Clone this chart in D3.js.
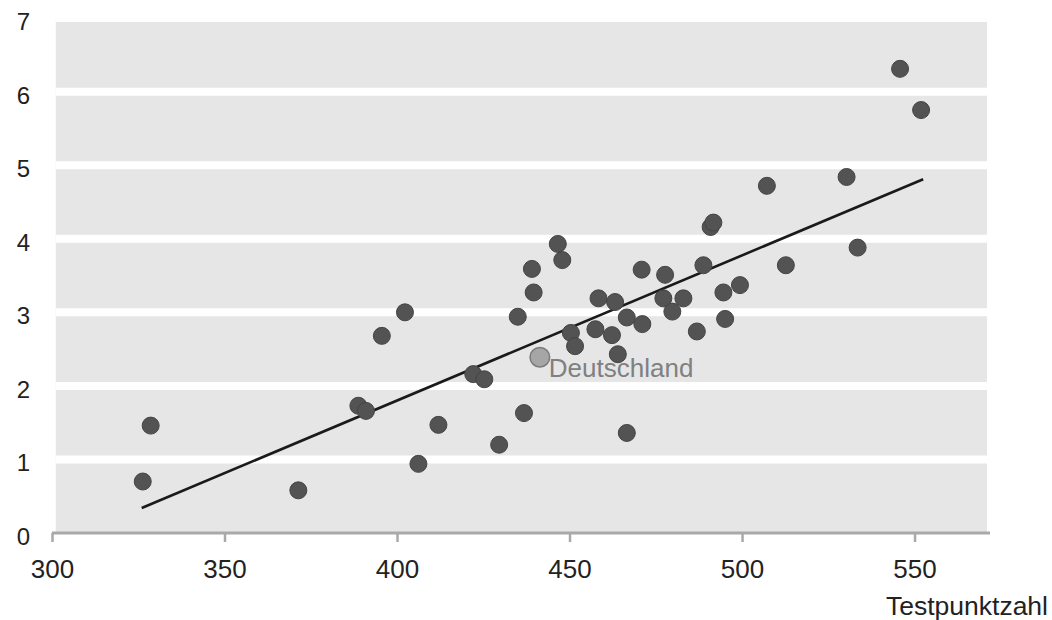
<!DOCTYPE html>
<html>
<head>
<meta charset="utf-8">
<script src="https://cdn.jsdelivr.net/npm/d3@7"></script>
<style>
  body { margin: 0; background: #fff; }
  text { font-family: "Liberation Sans", Arial, sans-serif; }
</style>
</head>
<body>
<div id="chart"></div>
<script>
// Testpunktzahl (x) against the value on the y axis, one dot per country
var scores = [326.3, 328.6, 371.4, 388.8, 391.0, 395.6, 402.3, 406.2, 412.0, 422.1,
              425.3, 429.6, 435.0, 436.8, 439.1, 439.6, 446.6, 447.9, 450.4, 451.6,
              457.5, 458.4, 463.2, 462.3, 464.0, 466.6, 466.6, 470.9, 471.1, 477.2,
              477.7, 479.8, 483.0, 486.9, 488.8, 490.9, 491.7, 494.6, 495.1, 499.4,
              507.2, 512.7, 530.3, 533.5, 545.8, 551.9];
var values = [0.70, 1.46, 0.58, 1.73, 1.66, 2.68, 3.00, 0.94, 1.47, 2.16,
              2.09, 1.20, 2.94, 1.63, 3.59, 3.27, 3.93, 3.71, 2.72, 2.54,
              2.77, 3.19, 3.14, 2.69, 2.43, 2.93, 1.36, 3.58, 2.84, 3.19,
              3.51, 3.01, 3.19, 2.74, 3.64, 4.16, 4.22, 3.27, 2.91, 3.37,
              4.72, 3.64, 4.84, 3.88, 6.31, 5.75];

// highlighted country
var highlightName = "Deutschland";
var highlightScore = 441.4;
var highlightValue = 2.39;

// trend line end points
var trendX = [326.0, 552.5];
var trendY = [0.34, 4.81];

var xTicks = [300, 350, 400, 450, 500, 550];
var yTicks = [0, 1, 2, 3, 4, 5, 6, 7];
var xTitle = "Testpunktzahl";

var width = 1052, height = 620;

var svg = d3.select("#chart").append("svg")
    .attr("width", width)
    .attr("height", height);

var x = d3.scaleLinear().domain([300, 571]).range([52, 987]);
var y = d3.scaleLinear().domain([0, 7]).range([533, 18.1]);

// plot background
svg.append("rect")
    .attr("x", x(301.1))
    .attr("y", y(7))
    .attr("width", x(571) - x(301.1))
    .attr("height", y(0) - y(7))
    .attr("fill", "#e6e6e6");

// white horizontal grid bands
svg.selectAll(".grid")
    .data(yTicks.filter(function(d) { return d > 0; }))
    .enter().append("line")
    .attr("class", "grid")
    .attr("x1", x(301.1))
    .attr("x2", x(571))
    .attr("y1", function(d) { return y(d); })
    .attr("y2", function(d) { return y(d); })
    .attr("stroke", "#fff")
    .attr("stroke-width", 8);

// x axis
var xAxis = svg.append("g")
    .attr("transform", "translate(0," + y(0) + ")")
    .call(d3.axisBottom(x).tickValues(xTicks).tickSize(9).tickPadding(18).tickSizeOuter(0));
xAxis.select(".domain")
    .attr("d", "M" + x(300) + ",0H" + (x(571) + 3))
    .attr("stroke", "#a9a9a9")
    .attr("stroke-width", 3);
xAxis.selectAll(".tick line")
    .attr("stroke", "#a9a9a9")
    .attr("stroke-width", 2.5);
xAxis.selectAll(".tick text")
    .attr("fill", "#222")
    .style("font-size", "26px");

// y axis, labels only
svg.selectAll(".ylab")
    .data(yTicks)
    .enter().append("text")
    .attr("class", "ylab")
    .attr("x", 30)
    .attr("y", function(d) { return y(d) + 12; })
    .attr("text-anchor", "end")
    .attr("fill", "#222")
    .style("font-size", "24px")
    .text(function(d) { return d; });

// trend line
svg.append("line")
    .attr("x1", x(trendX[0]))
    .attr("y1", y(trendY[0]))
    .attr("x2", x(trendX[1]))
    .attr("y2", y(trendY[1]))
    .attr("stroke", "#1a1a1a")
    .attr("stroke-width", 2.6);

// dots
svg.selectAll(".dot")
    .data(d3.zip(scores, values))
    .enter().append("circle")
    .attr("class", "dot")
    .attr("cx", function(d) { return x(d[0]); })
    .attr("cy", function(d) { return y(d[1]); })
    .attr("r", 8.5)
    .attr("fill", "#535353")
    .attr("stroke", "#444")
    .attr("stroke-width", 1);

// Deutschland
svg.append("circle")
    .attr("cx", x(highlightScore))
    .attr("cy", y(highlightValue))
    .attr("r", 9.8)
    .attr("fill", "#a6a6a6")
    .attr("stroke", "#7a7a7a")
    .attr("stroke-width", 1.5);

svg.append("text")
    .attr("x", x(highlightScore) + 9)
    .attr("y", y(highlightValue) + 20)
    .attr("fill", "#808080")
    .style("font-size", "26px")
    .text(highlightName);

// axis title
svg.append("text")
    .attr("x", 1048)
    .attr("y", 615)
    .attr("text-anchor", "end")
    .attr("fill", "#222")
    .style("font-size", "26.5px")
    .text(xTitle);
</script>
</body>
</html>
